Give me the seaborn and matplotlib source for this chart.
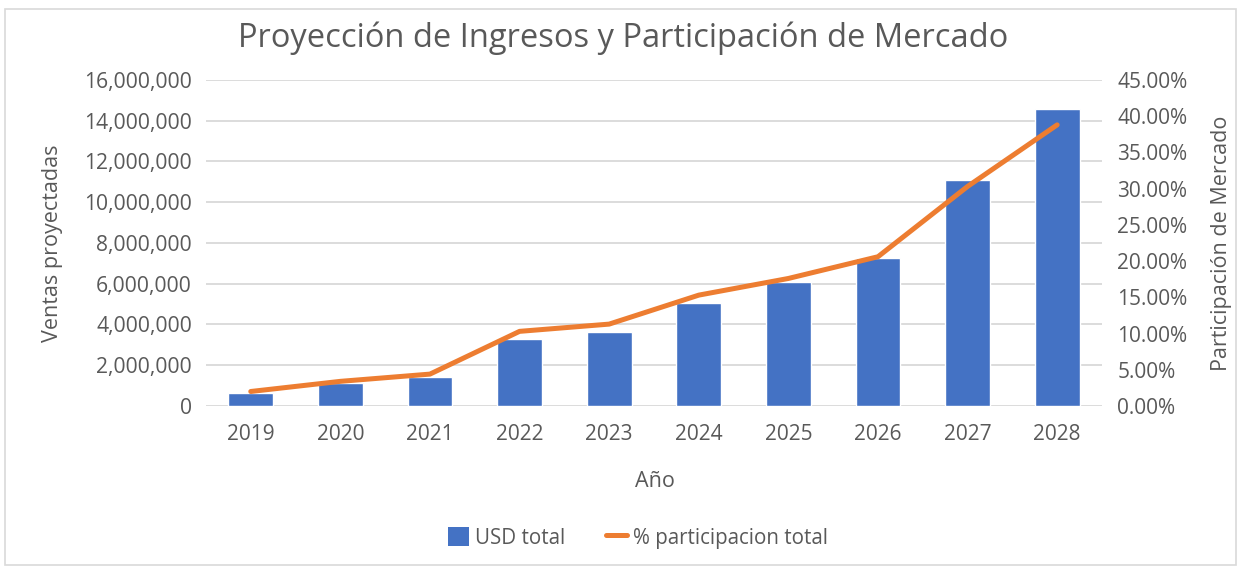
import matplotlib
matplotlib.use("Agg")
import matplotlib.pyplot as plt
import numpy as np
import pandas as pd
import seaborn as sns
from matplotlib.lines import Line2D
from matplotlib.patches import Patch, Rectangle
from matplotlib.ticker import FuncFormatter, MultipleLocator

years = ["2019", "2020", "2021", "2022", "2023", "2024", "2025", "2026", "2027", "2028"]
usd_total = [620000, 1110000, 1410000, 3290000, 3620000, 5040000, 6100000, 7280000, 11080000, 14580000]
pct_total = [2.0, 3.4, 4.4, 10.3, 11.3, 15.3, 17.6, 20.6, 30.3, 38.8]

BAR_COLOR = "#4472C4"
LINE_COLOR = "#ED7D31"
TEXT_COLOR = "#595959"
GRID_COLOR = "#D9D9D9"

sns.set_theme(style="white")
plt.rcParams["font.family"] = ["Open Sans", "DejaVu Sans"]
plt.rcParams["text.color"] = TEXT_COLOR
plt.rcParams["axes.labelcolor"] = TEXT_COLOR
plt.rcParams["xtick.color"] = TEXT_COLOR
plt.rcParams["ytick.color"] = TEXT_COLOR

data = pd.DataFrame({"year": years, "usd": usd_total, "pct": pct_total, "pos": np.arange(len(years))})

fig = plt.figure(figsize=(12.46, 5.71), dpi=100)
ax = fig.add_axes([0.1653, 0.289, 0.7191, 0.571])

sns.barplot(data=data, x="year", y="usd", color=BAR_COLOR, width=0.5, saturation=1, ax=ax)
ax.set_ylim(0, 16000000)
ax.yaxis.set_major_locator(MultipleLocator(2000000))
ax.yaxis.set_major_formatter(FuncFormatter(lambda v, p: f"{int(v):,}"))
ax.grid(axis="y", color=GRID_COLOR, linewidth=1.3)
ax.set_axisbelow(True)
for s in ax.spines.values():
    s.set_visible(False)
ax.tick_params(axis="y", length=0, pad=10, labelsize=15.2)
ax.tick_params(axis="x", length=0, pad=13, labelsize=15)
ax.set_xlabel("Año", fontsize=15.5)
ax.xaxis.set_label_coords(0.501, -0.2)
ax.set_ylabel("Ventas proyectadas", fontsize=15.5)
ax.yaxis.set_label_coords(-0.16, 0.5)

ax2 = ax.twinx()
sns.lineplot(data=data, x="pos", y="pct", color=LINE_COLOR, linewidth=3.6, ax=ax2)
ax2.set_ylim(0, 45)
ax2.set_xlim(-0.5, len(years) - 0.5)
ax2.yaxis.set_major_locator(MultipleLocator(5))
ax2.yaxis.set_major_formatter(FuncFormatter(lambda v, p: f"{v:.2f}%"))
for s in ax2.spines.values():
    s.set_visible(False)
ax2.tick_params(axis="y", length=0, pad=11, labelsize=15)
ax2.set_ylabel("Participación de Mercado", fontsize=15.5)
ax2.yaxis.set_label_coords(1.122, 0.5)
ax2.set_xlabel("")

fig.suptitle("Proyección de Ingresos y Participación de Mercado", fontsize=23.5, y=0.962, color=TEXT_COLOR)

handles = [
    Patch(facecolor=BAR_COLOR, edgecolor="none"),
    Line2D([0], [0], color=LINE_COLOR, linewidth=3.6),
]
fig.legend(handles, ["USD total", "% participacion total"], loc="center", bbox_to_anchor=(0.512, 0.058),
           ncol=2, frameon=False, fontsize=14.8, handlelength=1.0, handleheight=1.0, columnspacing=2.0,
           handletextpad=0.3)

fig.patches.append(Rectangle((0.004, 0.01), 0.988, 0.975, transform=fig.transFigure, fill=False,
                             edgecolor=GRID_COLOR, linewidth=1.2))

fig.savefig("out.png", dpi=100)
